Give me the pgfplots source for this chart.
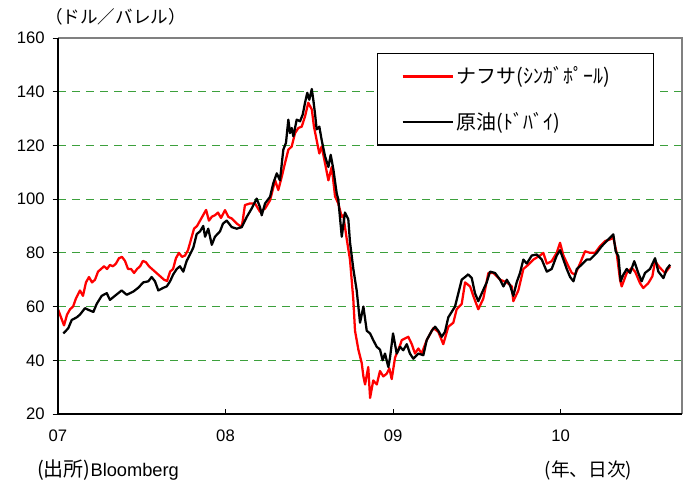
\documentclass[border=0pt]{standalone}
\usepackage{pgfplots}
\pgfplotsset{compat=1.18}
\usepackage{fontspec}
\setmainfont{Liberation Sans}
\newfontfamily\jp{Noto Sans CJK JP}
\definecolor{gridgreen}{RGB}{60,160,60}
\definecolor{framegray}{RGB}{128,128,128}
\begin{document}
\begin{tikzpicture}
\begin{axis}[
  scale only axis, width=468pt, height=282pt,
  xmin=0, xmax=3.725, ymin=20, ymax=160,
  xtick={0,1,2,3}, xticklabels={07,08,09,10},
  ytick={20,40,...,160},
  xtick pos=bottom, ytick pos=left,
  xtick align=inside, ytick align=outside,
  major tick length=4pt,
  tick style={black, line width=0.6pt},
  ymajorgrids,
  major grid style={gridgreen, line width=0.8pt, dash pattern=on 6pt off 4.5pt},
  axis line style={draw=none},
  clip=false,
  /pgf/number format/assume math mode=true,
  ticklabel style={font=\fontsize{12.5}{14}\selectfont},
  yticklabel style={xshift=-2.5pt},
  xticklabel style={yshift=-8pt},
  legend cell align=left,
  legend image code/.code={\draw[#1] (0pt,0pt) -- (37.5pt,0pt);},
  legend style={at={(0.511,0.960)}, anchor=north west, draw=black, line width=0.8pt,
    fill=white, font=\jp\fontsize{15}{17}\selectfont, inner xsep=18pt, inner ysep=8pt, row sep=16pt},
]
\addplot[red, line width=1.7pt, line join=round] coordinates {
(0.000,59)(0.018,56)(0.036,53)(0.054,57)(0.072,59)(0.090,60)(0.107,63)(0.131,66)(0.149,64)(0.167,69)(0.185,71)(0.203,69)(0.221,70)(0.239,73)(0.257,74)(0.275,75)(0.293,74)(0.310,75.5)(0.328,75)(0.346,76)(0.364,78)(0.382,78.5)(0.400,77)(0.418,74)(0.436,74)(0.454,72.5)(0.472,74)(0.490,75)(0.507,77)(0.525,76.5)(0.543,75)(0.561,74)(0.579,73)(0.597,72)(0.615,71)(0.633,70)(0.651,69.5)(0.669,73)(0.687,74)(0.704,78)(0.722,80)(0.740,78.5)(0.758,79)(0.776,81)(0.794,85)(0.812,89)(0.830,90)(0.848,92)(0.866,94)(0.884,96)(0.901,92)(0.919,93.5)(0.937,94)(0.955,95)(0.973,93)(0.997,95.9)(1.017,93.4)(1.037,92.8)(1.067,90.9)(1.097,89.6)(1.116,97.8)(1.146,98.4)(1.176,98.4)(1.206,95.3)(1.236,96.5)(1.266,99.6)(1.296,107)(1.315,103.4)(1.336,108.4)(1.355,113.4)(1.375,118.4)(1.395,119.6)(1.415,124.6)(1.435,126.5)(1.455,127)(1.475,130.9)(1.494,135.9)(1.515,133.4)(1.528,127)(1.544,122)(1.560,117)(1.574,119.6)(1.594,113.4)(1.614,107)(1.634,112)(1.654,101)(1.673,98.4)(1.694,93.4)(1.703,94)(1.724,85)(1.743,77.5)(1.763,62.5)(1.773,51)(1.793,44)(1.813,39)(1.823,34)(1.833,31)(1.852,37.5)(1.863,26)(1.882,32.5)(1.903,31)(1.922,36)(1.942,34)(1.962,35)(1.978,37)(1.992,33)(2.012,41)(2.042,45.6)(2.052,47.5)(2.091,48.75)(2.112,46)(2.131,42.5)(2.151,44.4)(2.171,42.5)(2.201,47.5)(2.241,52)(2.270,50.6)(2.300,46)(2.330,52.5)(2.360,54)(2.380,59)(2.410,61)(2.430,69)(2.460,67.5)(2.479,64)(2.509,59)(2.539,63)(2.569,72.5)(2.599,72.5)(2.639,70)(2.679,69)(2.709,67.5)(2.718,62)(2.748,66)(2.778,74)(2.808,75.6)(2.838,77.5)(2.877,79)(2.897,80)(2.918,76)(2.947,76.9)(2.977,80)(2.997,83.75)(3.017,79)(3.047,75)(3.067,72.5)(3.087,71.9)(3.116,76)(3.146,80.6)(3.176,80)(3.206,80)(3.236,82.5)(3.266,84.4)(3.295,85)(3.315,85.6)(3.335,80)(3.355,70)(3.365,67.5)(3.395,72.5)(3.425,74.4)(3.445,73)(3.474,68.75)(3.494,66.9)(3.524,68.75)(3.548,71.25)(3.564,76.9)(3.594,74.4)(3.624,72.5)(3.654,75)
};
\addlegendentry{ナフサ(ｼﾝｶﾞﾎﾟｰﾙ)\hspace*{13pt}}
\addplot[black, line width=1.7pt, line join=round] coordinates {
(0.032,50)(0.061,51.9)(0.082,55)(0.112,56)(0.131,57)(0.161,59.4)(0.181,58.8)(0.211,58)(0.231,61)(0.261,64)(0.291,65)(0.310,62.5)(0.340,64)(0.380,66)(0.410,64.4)(0.450,65.6)(0.479,67)(0.509,69)(0.539,69.4)(0.559,71)(0.579,69.4)(0.599,66)(0.629,67)(0.649,67.5)(0.669,69.4)(0.688,72)(0.709,74)(0.728,75)(0.748,73)(0.768,77)(0.788,79.4)(0.808,82)(0.828,87)(0.848,88)(0.867,90)(0.878,86)(0.897,89)(0.918,83)(0.937,86)(0.967,88)(0.985,90.9)(1.007,92)(1.037,89.6)(1.067,89)(1.097,89.6)(1.127,93.4)(1.156,96.5)(1.186,100.2)(1.206,97)(1.216,94)(1.236,98.4)(1.266,100.9)(1.285,105.9)(1.306,109.6)(1.325,107)(1.345,118.4)(1.361,121)(1.375,129.6)(1.385,124.6)(1.395,126.5)(1.405,123.4)(1.425,129.6)(1.445,129)(1.461,131.5)(1.475,136)(1.488,139.6)(1.500,137)(1.515,141)(1.524,137)(1.534,132)(1.544,126)(1.560,127)(1.574,122)(1.594,116)(1.614,112)(1.628,116.5)(1.644,111)(1.664,102)(1.673,100)(1.694,86)(1.713,95)(1.733,92.5)(1.743,84)(1.763,74)(1.783,66)(1.803,54)(1.823,60)(1.843,51)(1.863,50)(1.882,47.5)(1.903,45)(1.922,44)(1.938,40)(1.952,42.5)(1.972,37.5)(1.982,41)(2.000,50)(2.022,42.5)(2.042,45)(2.061,43.75)(2.082,46)(2.101,42.5)(2.121,40.6)(2.151,42.5)(2.181,41.9)(2.201,47.5)(2.231,51)(2.251,52.5)(2.270,51)(2.291,48.75)(2.310,50.6)(2.330,56)(2.350,58)(2.370,60)(2.390,65)(2.410,70)(2.430,71)(2.449,72)(2.470,70.6)(2.489,65)(2.509,62)(2.530,65)(2.559,69)(2.579,73)(2.609,72.5)(2.639,70)(2.659,67.5)(2.679,70)(2.698,68)(2.718,64)(2.738,69)(2.758,72.5)(2.778,77.5)(2.798,76)(2.828,79)(2.858,79.4)(2.888,77.5)(2.918,73)(2.947,74)(2.977,79)(2.997,81)(3.017,77.5)(3.037,74)(3.057,71)(3.077,69.4)(3.097,74)(3.126,75.6)(3.156,77.5)(3.176,77.5)(3.196,78.75)(3.216,80)(3.246,82.5)(3.276,84.4)(3.295,85.6)(3.315,86.9)(3.329,80.6)(3.345,78.75)(3.359,69.4)(3.375,71.9)(3.395,74)(3.415,72.5)(3.440,76.9)(3.464,72.5)(3.484,69.4)(3.504,72.5)(3.534,74)(3.564,78)(3.584,73)(3.614,70.6)(3.634,74)(3.654,75.6)
};
\addlegendentry{原油(ﾄﾞﾊﾞｲ)}
\draw[framegray, line width=1.1pt] (rel axis cs:0,1) -- (rel axis cs:1,1) -- (rel axis cs:1,0);
\draw[black, line width=1.4pt] (rel axis cs:0,1) -- (rel axis cs:0,0) -- (rel axis cs:1,0);
\node[anchor=west, inner sep=0pt] at (rel axis cs:-0.034,-0.149) {{\jp\fontsize{15}{17}\selectfont (出所)}{\fontsize{13.7}{17}\selectfont Bloomberg}};
\node[anchor=west, font=\jp\fontsize{14}{17}\selectfont, inner sep=0pt] at (rel axis cs:0.780,-0.149) {(年、日次)};
\node[anchor=west, font=\jp\fontsize{13.2}{16}\selectfont, inner sep=0pt] at (rel axis cs:-0.021,1.056) {（ドル／バレル）};
\end{axis}
\pgfresetboundingbox
\path (current axis.south west) ++(-43.5pt,-54pt) rectangle ++(519pt,364.5pt);
\end{tikzpicture}
\end{document}
